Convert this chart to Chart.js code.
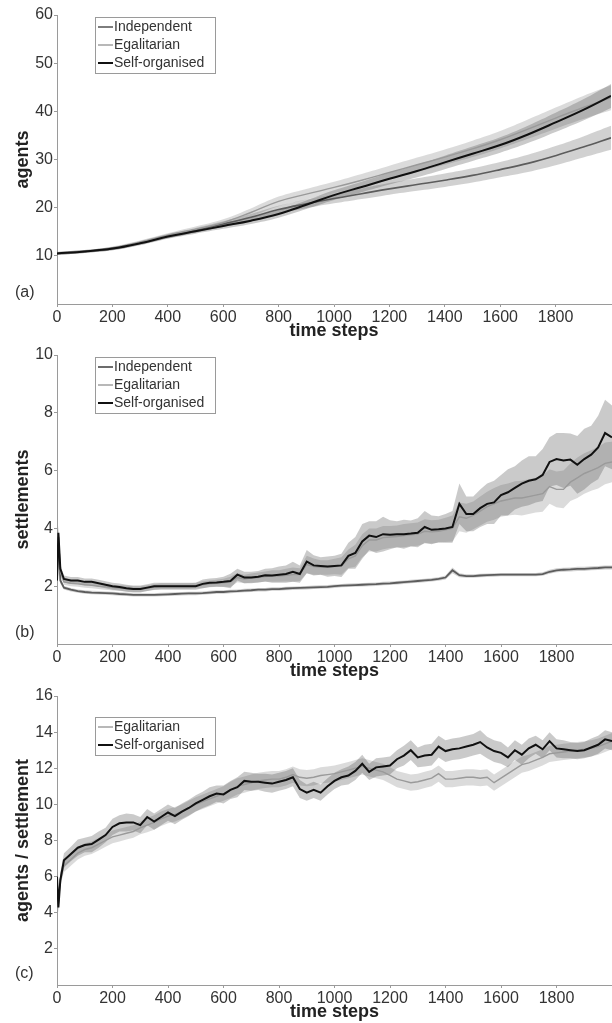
<!DOCTYPE html>
<html>
<head>
<meta charset="utf-8">
<script src="https://cdn.jsdelivr.net/npm/chart.js"></script>
<style>
  body { margin: 0; background: #fff; }
  .panel { position: absolute; left: 0; width: 612px; height: 342px; }
</style>
</head>
<body>
<div class="panel" style="top:0px"><canvas id="chartA" width="612" height="342"></canvas></div>
<div class="panel" style="top:340px"><canvas id="chartB" width="612" height="342"></canvas></div>
<div class="panel" style="top:681px"><canvas id="chartC" width="612" height="342"></canvas></div>
<script>
// time axis for panel (a)
const coarseSteps = [0, 100, 200, 300, 400, 500, 600, 700, 800, 900, 1000,
  1100, 1200, 1300, 1400, 1500, 1600, 1700, 1800, 1900, 2000];

// (a) agents
const agentsIndependent = [10.5, 10.9, 11.5, 12.7, 14.1, 15.3, 16.6, 18.0, 19.6, 20.8, 21.9, 22.9, 23.9, 24.8, 25.7, 26.7, 27.9, 29.2, 30.8, 32.6, 34.5];
const agentsEgalitarian = [10.5, 10.9, 11.6, 12.8, 14.2, 15.5, 16.9, 19.0, 21.3, 22.8, 24.2, 25.7, 27.3, 28.9, 30.5, 32.2, 34.1, 36.3, 38.6, 40.8, 42.8];
const agentsSelfOrganised = [10.5, 10.9, 11.5, 12.6, 14.0, 15.1, 16.2, 17.3, 18.7, 20.6, 22.6, 24.3, 26.0, 27.6, 29.4, 31.2, 33.0, 35.2, 37.7, 40.3, 43.2];
const agentsIndependentSd = [0.3, 0.3, 0.35, 0.4, 0.45, 0.5, 0.6, 0.7, 0.8, 0.9, 1.0, 1.1, 1.2, 1.3, 1.4, 1.5, 1.6, 1.8, 2.0, 2.2, 2.5];
const agentsEgalitarianSd = [0.3, 0.3, 0.35, 0.4, 0.5, 0.6, 0.7, 0.85, 1.0, 1.1, 1.2, 1.3, 1.4, 1.5, 1.6, 1.7, 1.8, 2.0, 2.2, 2.4, 2.6];
const agentsSelfOrganisedSd = [0.3, 0.3, 0.35, 0.4, 0.45, 0.5, 0.6, 0.7, 0.8, 0.9, 1.0, 1.1, 1.2, 1.3, 1.4, 1.5, 1.6, 1.8, 2.0, 2.2, 2.5];

// time axis for panels (b) and (c)
const fineSteps = [0, 5, 12,
  25, 50, 75, 100, 125, 150, 175, 200,
  225, 250, 275, 300, 325, 350, 375, 400,
  425, 450, 475, 500, 525, 550, 575, 600,
  625, 650, 675, 700, 725, 750, 775, 800,
  825, 850, 875, 900, 925, 950, 975, 1000,
  1025, 1050, 1075, 1100, 1125, 1150, 1175, 1200,
  1225, 1250, 1275, 1300, 1325, 1350, 1375, 1400,
  1425, 1450, 1475, 1500, 1525, 1550, 1575, 1600,
  1625, 1650, 1675, 1700, 1725, 1750, 1775, 1800,
  1825, 1850, 1875, 1900, 1925, 1950, 1975, 2000];

// (b) settlements
const settlementsIndependent = [2.2, 3.7, 2.2,
  1.95, 1.88, 1.83, 1.8, 1.78, 1.77, 1.76, 1.75,
  1.73, 1.72, 1.7, 1.7, 1.7, 1.7, 1.71, 1.72,
  1.73, 1.74, 1.75, 1.75, 1.76, 1.78, 1.8, 1.8,
  1.82, 1.83, 1.85, 1.86, 1.88, 1.88, 1.9, 1.9,
  1.92, 1.93, 1.94, 1.95, 1.96, 1.97, 1.98, 2.0,
  2.02, 2.03, 2.04, 2.05, 2.06, 2.07, 2.09, 2.1,
  2.12, 2.14, 2.16, 2.18, 2.2, 2.22, 2.25, 2.3,
  2.55, 2.38, 2.35, 2.35, 2.37, 2.38, 2.39, 2.4,
  2.4, 2.4, 2.4, 2.4, 2.4, 2.42, 2.5, 2.55,
  2.57, 2.58, 2.6, 2.6, 2.62, 2.63, 2.65, 2.65];
const settlementsEgalitarian = [2.2, 3.8, 2.5,
  2.15, 2.1, 2.08, 2.05, 2.03, 2.0, 1.98, 1.95,
  1.93, 1.92, 1.9, 1.9, 1.93, 1.97, 2.0, 2.0,
  2.0, 2.0, 2.0, 2.02, 2.05, 2.08, 2.1, 2.12,
  2.15, 2.3, 2.25, 2.28, 2.3, 2.33, 2.35, 2.35,
  2.38, 2.4, 2.4, 2.75, 2.68, 2.65, 2.65, 2.68,
  2.7, 2.95, 3.05, 3.4, 3.6, 3.6, 3.68, 3.7,
  3.72, 3.75, 3.78, 3.8, 3.9, 3.88, 3.9, 3.95,
  4.0, 4.4, 4.35, 4.45, 4.6, 4.75, 4.85, 4.95,
  5.0, 5.05, 5.05, 5.1, 5.15, 5.2, 5.45, 5.35,
  5.35, 5.6, 5.75, 5.9, 6.0, 6.1, 6.25, 6.3];
const settlementsSelfOrganised = [2.2, 3.85, 2.6,
  2.25, 2.2, 2.2, 2.15, 2.15, 2.1, 2.05, 2.0,
  1.97, 1.93, 1.9, 1.9, 1.95, 2.0, 2.0, 2.0,
  2.0, 2.0, 2.0, 2.0, 2.08, 2.12, 2.13, 2.15,
  2.18, 2.4, 2.3, 2.3, 2.33, 2.38, 2.37, 2.4,
  2.42, 2.5, 2.42, 2.85, 2.72, 2.7, 2.68, 2.7,
  2.72, 3.05, 3.15, 3.55, 3.75, 3.7, 3.8, 3.78,
  3.8, 3.8, 3.82, 3.85, 4.05, 3.95, 3.97, 4.0,
  4.05, 4.85, 4.5, 4.5, 4.7, 4.85, 4.9, 5.15,
  5.25, 5.4, 5.55, 5.65, 5.7, 5.85, 6.3, 6.4,
  6.35, 6.38, 6.2, 6.4, 6.55, 6.8, 7.3, 7.15];
const settlementsIndependentSd = [0.05, 0.15, 0.1,
  0.06, 0.06, 0.06, 0.06, 0.06, 0.06, 0.06, 0.06,
  0.06, 0.06, 0.06, 0.06, 0.06, 0.06, 0.06, 0.06,
  0.06, 0.06, 0.06, 0.06, 0.06, 0.06, 0.06, 0.06,
  0.06, 0.06, 0.06, 0.06, 0.06, 0.06, 0.06, 0.06,
  0.06, 0.06, 0.06, 0.06, 0.06, 0.06, 0.06, 0.06,
  0.06, 0.06, 0.06, 0.06, 0.06, 0.06, 0.06, 0.06,
  0.06, 0.06, 0.06, 0.06, 0.06, 0.06, 0.06, 0.07,
  0.1, 0.07, 0.06, 0.06, 0.06, 0.06, 0.06, 0.06,
  0.06, 0.06, 0.06, 0.06, 0.06, 0.06, 0.07, 0.07,
  0.07, 0.07, 0.07, 0.07, 0.07, 0.07, 0.07, 0.07];
const settlementsEgalitarianSd = [0.1, 0.25, 0.15,
  0.1, 0.1, 0.1, 0.1, 0.1, 0.1, 0.1, 0.1,
  0.1, 0.1, 0.1, 0.1, 0.1, 0.1, 0.1, 0.1,
  0.1, 0.1, 0.1, 0.1, 0.12, 0.12, 0.12, 0.14,
  0.18, 0.16, 0.15, 0.16, 0.17, 0.18, 0.2, 0.2,
  0.22, 0.25, 0.22, 0.3, 0.28, 0.25, 0.25, 0.27,
  0.3, 0.32, 0.38, 0.4, 0.4, 0.4, 0.4, 0.38,
  0.38, 0.4, 0.4, 0.4, 0.42, 0.4, 0.4, 0.42,
  0.45, 0.5, 0.5, 0.48, 0.5, 0.52, 0.55, 0.55,
  0.55, 0.58, 0.6, 0.6, 0.6, 0.62, 0.6, 0.62,
  0.65, 0.65, 0.7, 0.7, 0.7, 0.72, 0.72, 0.7];
const settlementsSelfOrganisedSd = [0.1, 0.25, 0.15,
  0.12, 0.12, 0.12, 0.12, 0.12, 0.12, 0.12, 0.12,
  0.12, 0.12, 0.12, 0.12, 0.12, 0.12, 0.12, 0.12,
  0.12, 0.12, 0.12, 0.12, 0.15, 0.15, 0.15, 0.18,
  0.25, 0.2, 0.2, 0.2, 0.2, 0.22, 0.25, 0.28,
  0.3, 0.35, 0.3, 0.4, 0.35, 0.3, 0.35, 0.35,
  0.4, 0.45, 0.55, 0.6, 0.5, 0.55, 0.6, 0.5,
  0.45, 0.5, 0.45, 0.5, 0.55, 0.5, 0.45, 0.5,
  0.55, 0.7, 0.6, 0.6, 0.65, 0.7, 0.75, 0.7,
  0.8, 0.75, 0.8, 0.85, 0.8, 0.9, 0.85, 0.9,
  0.95, 0.9, 1.0, 1.05, 1.0, 1.1, 1.15, 1.1];

// (c) agents per settlement
const ratioEgalitarian = [6.0, 4.5, 5.9,
  6.6, 6.95, 7.3, 7.5, 7.6, 7.8, 8.0, 8.2,
  8.3, 8.4, 8.5, 8.7, 8.85, 9.0, 9.2, 9.35,
  9.45, 9.6, 9.8, 10.0, 10.15, 10.3, 10.45, 10.6,
  10.8, 11.0, 11.1, 11.2, 11.3, 11.35, 11.4, 11.4,
  11.5, 11.65, 11.5, 11.45, 11.5, 11.6, 11.65, 11.7,
  11.8, 11.9, 12.0, 12.1, 12.0, 11.9, 11.8, 11.6,
  11.4, 11.3, 11.2, 11.25, 11.35, 11.45, 11.7, 11.4,
  11.4, 11.45, 11.5, 11.5, 11.45, 11.5, 11.2, 11.45,
  11.7, 11.95, 12.2, 12.3, 12.45, 12.6, 12.8, 12.85,
  12.9, 12.95, 13.0, 13.05, 13.1, 13.2, 13.35, 13.5];
const ratioSelfOrganised = [6.0, 4.3, 5.8,
  6.9, 7.25, 7.6, 7.75, 7.8, 8.05, 8.3, 8.75,
  8.95, 9.0, 9.0, 8.85, 9.3, 9.05, 9.3, 9.55,
  9.35, 9.6, 9.8, 10.05, 10.25, 10.45, 10.6, 10.55,
  10.8, 10.95, 11.3, 11.25, 11.25, 11.2, 11.15, 11.25,
  11.35, 11.5, 10.85, 10.65, 10.8, 10.65, 11.0, 11.3,
  11.5, 11.6, 11.85, 12.25, 11.8, 12.05, 12.1, 12.15,
  12.5, 12.7, 13.0, 12.6, 12.7, 12.75, 13.2, 12.95,
  13.05, 13.1, 13.2, 13.3, 13.45, 13.15, 12.95, 12.85,
  12.6, 13.0, 12.75, 13.1, 13.3, 13.05, 13.5, 13.1,
  13.05, 13.0, 12.95, 13.0, 13.15, 13.3, 13.6, 13.5];
const ratioEgalitarianSd = [0.3, 0.3, 0.35,
  0.35, 0.35, 0.35, 0.35, 0.35, 0.35, 0.35, 0.35,
  0.35, 0.35, 0.35, 0.35, 0.4, 0.4, 0.4, 0.4,
  0.4, 0.4, 0.4, 0.4, 0.4, 0.4, 0.4, 0.4,
  0.45, 0.45, 0.45, 0.45, 0.45, 0.45, 0.45, 0.45,
  0.45, 0.45, 0.45, 0.45, 0.45, 0.45, 0.45, 0.45,
  0.45, 0.45, 0.45, 0.45, 0.45, 0.45, 0.45, 0.45,
  0.45, 0.45, 0.45, 0.45, 0.45, 0.45, 0.45, 0.45,
  0.45, 0.45, 0.45, 0.45, 0.45, 0.45, 0.45, 0.45,
  0.45, 0.45, 0.45, 0.45, 0.45, 0.45, 0.45, 0.45,
  0.45, 0.45, 0.45, 0.45, 0.45, 0.45, 0.45, 0.45];
const ratioSelfOrganisedSd = [0.3, 0.3, 0.4,
  0.4, 0.4, 0.45, 0.4, 0.45, 0.45, 0.4, 0.45,
  0.45, 0.5, 0.45, 0.45, 0.45, 0.45, 0.45, 0.45,
  0.45, 0.45, 0.45, 0.45, 0.45, 0.5, 0.45, 0.5,
  0.5, 0.55, 0.5, 0.5, 0.45, 0.5, 0.5, 0.5,
  0.5, 0.5, 0.5, 0.45, 0.45, 0.45, 0.45, 0.45,
  0.45, 0.5, 0.5, 0.5, 0.45, 0.5, 0.5, 0.5,
  0.5, 0.55, 0.55, 0.55, 0.6, 0.6, 0.6, 0.6,
  0.6, 0.6, 0.6, 0.6, 0.65, 0.6, 0.6, 0.6,
  0.55, 0.55, 0.55, 0.55, 0.5, 0.5, 0.5, 0.5,
  0.5, 0.45, 0.45, 0.45, 0.5, 0.5, 0.5, 0.5];

const FONT = "'Liberation Sans', Arial, sans-serif";
const AXIS_GREY = "#9a9a9a";
const TEXT = "#333";

function points(steps, values, sd, sign) {
  return steps.map((t, i) => ({ x: t, y: values[i] + (sd ? sign * sd[i] : 0) }));
}

// mean line plus a shaded band (mean +/- sd) underneath
function series(label, steps, values, sd, line, fill, width, order) {
  return [
    { data: points(steps, values, sd, -1), borderWidth: 0, pointRadius: 0, fill: false, order: 10 + order },
    { data: points(steps, values, sd, 1), borderWidth: 0, pointRadius: 0, fill: "-1", backgroundColor: fill, order: 10 + order },
    { label: label, inLegend: true, data: points(steps, values), borderColor: line, borderWidth: width, pointRadius: 0, fill: false, order: order }
  ];
}

// small boxed legend in the top-left corner of the plot, plus the panel letter
const boxLegend = {
  id: "boxLegend",
  afterDraw(chart, args, opts) {
    const ctx = chart.ctx;
    const items = chart.data.datasets.filter(d => d.inLegend);
    const top = chart.chartArea.top + opts.offset;
    const rowH = 18;
    ctx.save();
    ctx.fillStyle = "#fff";
    ctx.strokeStyle = "#9a9a9a";
    ctx.lineWidth = 1;
    ctx.fillRect(95.5, top + 0.5, 120, items.length * rowH + 2);
    ctx.strokeRect(95.5, top + 0.5, 120, items.length * rowH + 2);
    ctx.font = "14px " + FONT;
    ctx.textBaseline = "middle";
    items.forEach((d, i) => {
      const y = top + 10 + i * rowH;
      ctx.strokeStyle = d.borderColor;
      ctx.lineWidth = d.borderWidth;
      ctx.beginPath();
      ctx.moveTo(98, y);
      ctx.lineTo(113, y);
      ctx.stroke();
      ctx.fillStyle = TEXT;
      ctx.fillText(d.label, 114, y);
    });
    ctx.font = "16px " + FONT;
    ctx.fillText(opts.letter, 15, 293);
    ctx.restore();
  }
};

function makePanel(id, datasets, yMax, yStep, yTitle, letter, legendOffset) {
  const ctx = document.getElementById(id).getContext("2d");
  return new Chart(ctx, {
    type: "line",
    data: { datasets: datasets },
    plugins: [boxLegend],
    options: {
      responsive: false,
      animation: false,
      layout: { padding: { top: 15, right: 0, left: 0, bottom: 0 } },
      plugins: {
        legend: { display: false },
        tooltip: { enabled: false },
        boxLegend: { letter: letter, offset: legendOffset }
      },
      scales: {
        x: {
          type: "linear",
          min: 0,
          max: 2000,
          afterBuildTicks: s => { s.ticks = s.ticks.filter(t => t.value < 2000); },
          afterFit: s => { s.height = 38; },
          ticks: { stepSize: 200, color: TEXT, padding: 1, maxRotation: 0, font: { family: FONT, size: 16 },
            callback: v => String(v) },
          grid: { drawOnChartArea: false, tickLength: 3, color: AXIS_GREY },
          border: { color: AXIS_GREY },
          title: { display: true, text: "time steps", color: "#222", padding: 0, font: { family: FONT, size: 18, weight: "bold" } }
        },
        y: {
          min: 0,
          max: yMax,
          afterBuildTicks: s => { s.ticks = s.ticks.filter(t => t.value > 0); },
          afterFit: s => { s.width = 57; },
          ticks: { stepSize: yStep, color: TEXT, padding: 1, font: { family: FONT, size: 16 },
            callback: v => String(v) },
          grid: { drawOnChartArea: false, tickLength: 3, color: AXIS_GREY },
          border: { color: AXIS_GREY },
          title: { display: true, text: yTitle, color: "#222", padding: { top: 12, bottom: 0 }, font: { family: FONT, size: 18, weight: "bold" } }
        }
      }
    }
  });
}

const INDEP_LINE = "#5c5c5c", EGAL_LINE = "#9a9a9a", SELF_LINE = "#111";
const INDEP_FILL = "rgba(90,90,90,0.28)", EGAL_FILL = "rgba(110,110,110,0.25)", SELF_FILL = "rgba(80,80,80,0.3)";

const chartA = makePanel("chartA", [].concat(
  series("Independent", coarseSteps, agentsIndependent, agentsIndependentSd, INDEP_LINE, INDEP_FILL, 1.6, 2),
  series("Egalitarian", coarseSteps, agentsEgalitarian, agentsEgalitarianSd, EGAL_LINE, EGAL_FILL, 1.4, 1),
  series("Self-organised", coarseSteps, agentsSelfOrganised, agentsSelfOrganisedSd, SELF_LINE, SELF_FILL, 2, 0)
), 60, 10, "agents", "(a)", 2);
chartA.data.datasets.forEach(d => { d.tension = 0.4; });
chartA.update();

makePanel("chartB", [].concat(
  series("Independent", fineSteps, settlementsIndependent, settlementsIndependentSd, INDEP_LINE, INDEP_FILL, 1.8, 2),
  series("Egalitarian", fineSteps, settlementsEgalitarian, settlementsEgalitarianSd, EGAL_LINE, EGAL_FILL, 1.4, 1),
  series("Self-organised", fineSteps, settlementsSelfOrganised, settlementsSelfOrganisedSd, SELF_LINE, SELF_FILL, 2, 0)
), 10, 2, "settlements", "(b)", 2);

makePanel("chartC", [].concat(
  series("Egalitarian", fineSteps, ratioEgalitarian, ratioEgalitarianSd, EGAL_LINE, EGAL_FILL, 1.4, 1),
  series("Self-organised", fineSteps, ratioSelfOrganised, ratioSelfOrganisedSd, SELF_LINE, SELF_FILL, 2, 0)
), 16, 2, "agents / settlement", "(c)", 21);
</script>
</body>
</html>
